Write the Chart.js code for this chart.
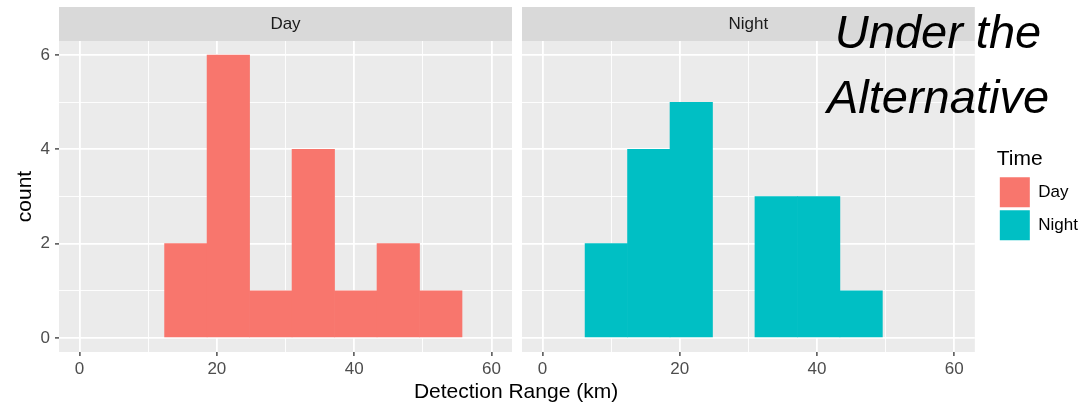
<!DOCTYPE html>
<html>
<head>
<meta charset="utf-8">
<script src="https://cdn.jsdelivr.net/npm/chart.js@4.4.1/dist/chart.umd.min.js"></script>
<style>
body { margin: 0; background: #fff; overflow: hidden; }
#wrap { position: relative; width: 1085px; height: 404px; overflow: hidden; font-family: "Liberation Sans", Arial, sans-serif; }
#dayChart { position: absolute; left: 0; top: 0; }
#nightChart { position: absolute; left: 512px; top: 0; }
#xTitle { position: absolute; left: 316px; width: 400px; top: 380px; text-align: center; font-size: 21px; line-height: 21px; color: #000; }
#note { position: absolute; left: 793px; width: 290px; top: -1px; text-align: center; font-size: 47px; line-height: 65px; font-style: italic; color: #000; }
</style>
</head>
<body>
<div id="wrap">
  <canvas id="dayChart" width="512" height="404"></canvas>
  <canvas id="nightChart" width="576" height="404"></canvas>
  <div id="xTitle">Detection Range (km)</div>
  <div id="note">Under the<br>Alternative</div>
</div>
<script>
// histogram bins (km, bin centres) and counts per facet
const binCenters = [9.29, 15.48, 21.67, 27.86, 34.05, 40.24, 46.43, 52.62];
const dayCounts = [0, 2, 6, 1, 4, 1, 2, 1];
const nightCounts = [2, 4, 5, 0, 3, 3, 1, 0];
const xGrid = [0, 10, 20, 30, 40, 50, 60];
const xTicks = [0, 20, 40, 60];
const yGrid = [0, 1, 2, 3, 4, 5, 6];
const yTicks = [0, 2, 4, 6];
const timeLabels = ['Day', 'Night'];
const timeColors = ['#F8766D', '#00BFC4'];

Chart.defaults.font.family = '"Liberation Sans", Arial, sans-serif';

// grey panel + facet strip behind everything
const panelPlugin = {
    id: 'panel',
    beforeDraw(chart) {
        const { ctx, chartArea: a } = chart;
        ctx.save();
        ctx.fillStyle = '#EBEBEB';
        ctx.fillRect(a.left, a.top, a.right - a.left, a.bottom - a.top);
        ctx.fillStyle = '#D9D9D9';
        ctx.fillRect(a.left, 7, a.right - a.left, a.top - 7);
        ctx.restore();
    }
};

function isMajor(c, major) {
    return !!(c.tick && major.includes(c.tick.value));
}

function gridFor(major, showTicks) {
    return {
        offset: false,
        color: '#FFFFFF',
        lineWidth: c => isMajor(c, major) ? 1.8 : 0.9,
        drawTicks: showTicks,
        tickLength: 4,
        tickWidth: 1.3,
        tickColor: c => isMajor(c, major) ? '#333333' : 'rgba(0,0,0,0)'
    };
}

function makePanel(id, name, counts, color, isFirst) {
    const points = binCenters
        .map((x, i) => ({ x: x, y: counts[i] }))
        .filter(p => p.y > 0);

    const scales = {
        x: {
            type: 'linear',
            min: -3,
            max: 63,
            offset: false,
            afterBuildTicks: s => { s.ticks = xGrid.map(v => ({ value: v })); },
            afterFit: s => { s.height = 52; },
            border: { display: false },
            grid: gridFor(xTicks, true),
            ticks: {
                autoSkip: false,
                maxRotation: 0,
                padding: 3,
                color: '#4D4D4D',
                font: { size: 17 },
                callback: v => xTicks.includes(v) ? v : ''
            }
        },
        y: {
            type: 'linear',
            min: -0.3,
            max: 6.3,
            afterBuildTicks: s => { s.ticks = yGrid.map(v => ({ value: v })); },
            afterFit: s => { s.width = isFirst ? 59 : 0; },
            border: { display: false },
            grid: gridFor(yTicks, isFirst),
            ticks: {
                display: isFirst,
                autoSkip: false,
                padding: 5,
                color: '#4D4D4D',
                font: { size: 17 },
                callback: v => yTicks.includes(v) ? v : ''
            },
            title: {
                display: isFirst,
                text: 'count',
                color: '#000000',
                font: { size: 21 },
                padding: { top: 13, bottom: 0 }
            }
        }
    };

    if (!isFirst) {
        // spacer between the panel and the legend
        scales.gap = {
            type: 'linear',
            axis: 'y',
            position: 'right',
            afterFit: s => { s.width = 22; },
            border: { display: false },
            grid: { display: false },
            ticks: { display: false }
        };
    }

    return new Chart(document.getElementById(id), {
        type: 'bar',
        data: {
            datasets: [{
                label: name,
                data: points,
                yAxisID: 'y',
                backgroundColor: color,
                borderWidth: 0,
                barPercentage: 1,
                categoryPercentage: 1
            }]
        },
        options: {
            responsive: false,
            animation: false,
            layout: { padding: isFirst ? 0 : { left: 10, right: 0, top: 0, bottom: 0 } },
            scales: scales,
            plugins: {
                tooltip: { enabled: false },
                title: {
                    display: true,
                    text: name,
                    fullSize: false,
                    color: '#1A1A1A',
                    font: { size: 17, weight: 'normal' },
                    padding: { top: 13.8, bottom: 6.8 }
                },
                legend: {
                    display: !isFirst,
                    position: 'right',
                    align: 'start',
                    title: {
                        display: true,
                        text: 'Time',
                        position: 'start',
                        color: '#000000',
                        font: { size: 21 },
                        padding: { top: 149, bottom: 0 }
                    },
                    labels: {
                        boxWidth: 30,
                        boxHeight: 30,
                        padding: 3,
                        color: '#1A1A1A',
                        font: { size: 17 },
                        generateLabels: () => timeLabels.map((t, i) => ({
                            text: t,
                            fillStyle: timeColors[i],
                            strokeStyle: timeColors[i],
                            lineWidth: 0,
                            hidden: false
                        }))
                    }
                }
            }
        },
        plugins: [panelPlugin]
    });
}

makePanel('dayChart', timeLabels[0], dayCounts, timeColors[0], true);
makePanel('nightChart', timeLabels[1], nightCounts, timeColors[1], false);
</script>
</body>
</html>
